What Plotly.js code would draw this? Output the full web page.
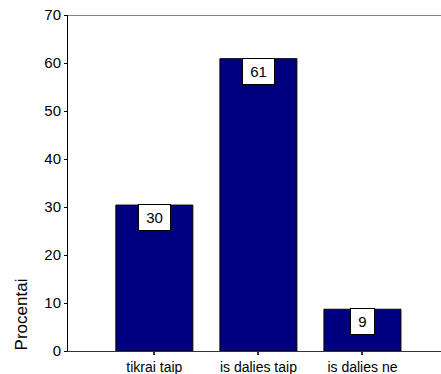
<!DOCTYPE html>
<html>
<head>
<meta charset="utf-8">
<script src="https://cdn.plot.ly/plotly-3.0.1.min.js"></script>
<style>
html,body{margin:0;padding:0;background:#fff;}
#chart{width:441px;height:374px;}
</style>
</head>
<body>
<div id="chart"></div>
<script>
var categories = ["tikrai taip", "is dalies taip", "is dalies ne"];
var values = [30.4, 60.9, 8.7];
var valueLabels = ["30", "61", "9"];
var yTickVals = [0, 10, 20, 30, 40, 50, 60, 70];
var yTitle = "Procentai";

var font = "Arial, 'Liberation Sans', sans-serif";

var trace = {
  type: "bar",
  x: categories,
  y: values,
  width: 0.74,
  marker: {color: "#000080", line: {color: "#000000", width: 1}},
  hoverinfo: "none"
};

var annotations = categories.map(function (c, i) {
  return {
    x: c, y: values[i], xref: "x", yref: "y",
    text: valueLabels[i],
    showarrow: false,
    yanchor: "top", xanchor: "center",
    yshift: 1,
    bgcolor: "#ffffff",
    bordercolor: "#000000",
    borderwidth: 1,
    borderpad: 4,
    width: valueLabels[i].length * 8 + 7,
    font: {family: font, size: 15, color: "#000"}
  };
});
annotations.push({
  xref: "paper", yref: "paper",
  x: -0.125, y: 0.11,
  text: yTitle, textangle: -90,
  showarrow: false,
  xanchor: "center", yanchor: "middle",
  font: {family: font, size: 17, color: "#000"}
});

var layout = {
  width: 441, height: 374,
  margin: {l: 68, r: 0, t: 15, b: 23},
  paper_bgcolor: "#fff",
  plot_bgcolor: "#fff",
  showlegend: false,
  xaxis: {
    type: "category",
    range: [-0.83, 2.755],
    showgrid: false, zeroline: false,
    showline: true, linecolor: "#333", linewidth: 1,
    ticks: "outside", ticklen: 3, tickcolor: "#333", tickwidth: 2,
    tickfont: {family: font, size: 14, color: "#000"},
    fixedrange: true
  },
  yaxis: {
    range: [0, 70],
    tickvals: yTickVals,
    ticktext: yTickVals.map(String),
    showgrid: false, zeroline: false,
    showline: true, linecolor: "#000", linewidth: 1,
    ticks: "outside", ticklen: 3, tickcolor: "#000",
    tickfont: {family: font, size: 15, color: "#000"},
    fixedrange: true
  },
  shapes: [{
    type: "line", xref: "paper", yref: "y",
    x0: 0, x1: 1, y0: 70, y1: 70,
    line: {color: "#808080", width: 2}
  }],
  annotations: annotations
};

Plotly.newPlot("chart", [trace], layout, {displayModeBar: false, staticPlot: true});
</script>
</body>
</html>
